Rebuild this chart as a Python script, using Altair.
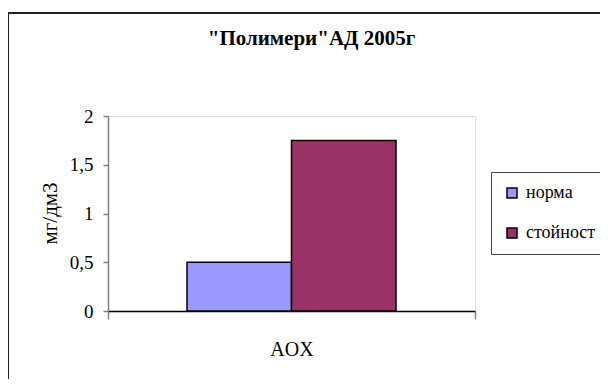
import altair as alt
import pandas as pd

title_text = '"Полимери"АД 2005г'
category = ["AOX", "AOX"]
series = ["норма", "стойност"]
values = [0.5, 1.75]
colors = ["#9999FF", "#993366"]
y_title = "мг/дм3"
y_ticks = [0, 0.5, 1, 1.5, 2]

df = pd.DataFrame({"param": category, "series": series, "value": values})

FONT = "Liberation Serif"
W, H = 367, 195

border = alt.Chart(alt.Data(values=[{}])).mark_rect(
    fill=None, stroke="#222222", strokeWidth=2, clip=False
).encode(
    x=alt.value(-100), x2=alt.value(500), y=alt.value(-103), y2=alt.value(280)
)

bars = alt.Chart(df).mark_bar(stroke="black", strokeWidth=1.5, clip=False).encode(
    x=alt.X("param:N", title=None,
            scale=alt.Scale(paddingInner=0, paddingOuter=0),
            axis=alt.Axis(labelAngle=0, labelFontSize=20, labelColor="black",
                          labelPadding=20, tickBand="extent", tickSize=8, tickColor="#808080",
                          tickWidth=1.5, domainColor="black", domainWidth=1.5, grid=False)),
    xOffset=alt.XOffset("series:N", scale=alt.Scale(paddingInner=0, paddingOuter=0.756)),
    y=alt.Y("value:Q", title=y_title,
            scale=alt.Scale(domain=[0, 2], nice=False),
            axis=alt.Axis(values=y_ticks, labelExpr="replace(format(datum.value, '~g'), '.', ',')",
                          labelFontSize=19, labelColor="black", labelPadding=10,
                          tickSize=5, tickColor="#808080", tickWidth=1.5,
                          domainColor="#808080", domainWidth=1.5, grid=False,
                          titleFontSize=21, titleFontWeight="normal",
                          titleColor="black", titleX=-58, titleY=97, titleAngle=270,
                          titleAlign="center", titleBaseline="middle")),
    color=alt.Color("series:N", scale=alt.Scale(domain=series, range=colors),
                    legend=alt.Legend(title=None, orient="none", legendX=383, legendY=56,
                                      labelFontSize=18, labelColor="black",
                                      symbolType="square", symbolSize=100, symbolStrokeColor="black",
                                      symbolStrokeWidth=1.5, rowPadding=22, padding=12,
                                      strokeColor="#444444", labelOffset=5)),
)

chart = alt.layer(border, bars).properties(
    width=W, height=H,
    title=alt.TitleParams(text=title_text, fontSize=21, fontWeight="bold",
                          color="black", anchor="middle", dx=20, offset=-37),
    autosize=alt.AutoSizeParams(type="none"),
    padding={"left": 100, "top": 108, "right": 125, "bottom": 68},
).configure_view(stroke=None).configure(
    background="white", font=FONT
).configure_axis(labelFont=FONT, titleFont=FONT).configure_legend(
    labelFont=FONT, titleFont=FONT
).configure_title(font=FONT)

chart.save("out.html", embed_options={"renderer": "svg", "actions": False})
